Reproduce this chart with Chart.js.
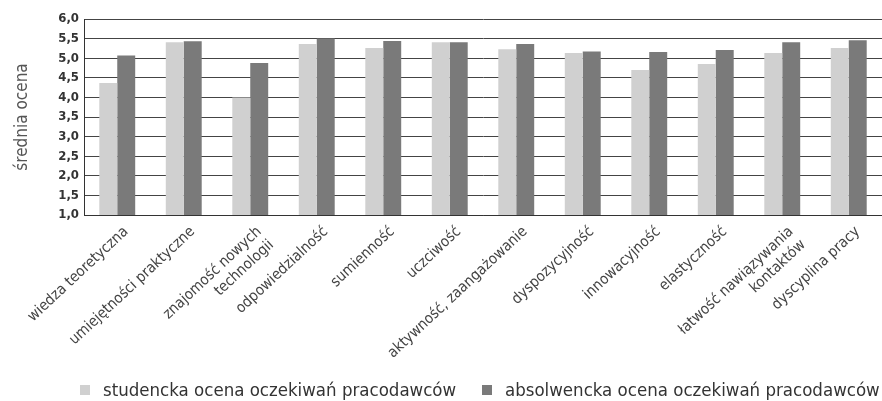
<!DOCTYPE html>
<html>
<head>
<meta charset="utf-8">
<script src="https://cdn.jsdelivr.net/npm/chart.js@4/dist/chart.umd.min.js"></script>
<style>
  html, body { margin: 0; padding: 0; background: #fff; }
  #wrap { width: 882px; height: 401px; position: relative; }
  #legend { position: absolute; left: 0; top: 380px; width: 882px; height: 22px;
            font-family: "DejaVu Sans Condensed", sans-serif; font-size: 18.5px; color: #333; }
  #legend .item { position: absolute; top: 0; white-space: nowrap; line-height: 20px; }
  #legend .box { position: absolute; top: 5px; width: 10px; height: 10px; }
  #legend .txt { position: absolute; top: 0; }
</style>
</head>
<body>
<div id="wrap">
  <canvas id="c" width="882" height="401"></canvas>
  <div id="legend"></div>
</div>
<script>
const categories = [
  'wiedza teoretyczna',
  'umiejętności praktyczne',
  ['znajomość nowych', 'technologii'],
  'odpowiedzialność',
  'sumienność',
  'uczciwość',
  'aktywność, zaangażowanie',
  'dyspozycyjność',
  'innowacyjność',
  'elastyczność',
  ['łatwość nawiązywania', 'kontaktów'],
  'dyscyplina pracy'
];
const seriesNames = [
  'studencka ocena oczekiwań pracodawców',
  'absolwencka ocena oczekiwań pracodawców'
];
const studentValues  = [4.37, 5.41, 4.00, 5.36, 5.26, 5.41, 5.23, 5.13, 4.70, 4.85, 5.13, 5.26];
const graduateValues = [5.07, 5.43, 4.88, 5.50, 5.44, 5.41, 5.36, 5.17, 5.16, 5.21, 5.41, 5.46];
const yTicks = ['1,0', '1,5', '2,0', '2,5', '3,0', '3,5', '4,0', '4,5', '5,0', '5,5', '6,0'];
const yTitle = 'średnia ocena';

const seriesColors = ['#d0d0d0', '#7a7a7a'];
const FONT = '"DejaVu Sans Condensed", sans-serif';

new Chart(document.getElementById('c'), {
  type: 'bar',
  data: {
    labels: categories,
    datasets: [
      { label: seriesNames[0], data: studentValues, backgroundColor: seriesColors[0] },
      { label: seriesNames[1], data: graduateValues, backgroundColor: seriesColors[1] }
    ]
  },
  options: {
    responsive: false,
    animation: false,
    events: [],
    layout: { padding: { left: 8, right: 0, top: 19, bottom: 0 } },
    datasets: { bar: { categoryPercentage: 0.54, barPercentage: 1.0 } },
    plugins: {
      tooltip: { enabled: false },
      legend: { display: false }
    },
    scales: {
      x: {
        grid: { display: false, drawTicks: false },
        border: { display: true, color: '#333', width: 1 },
        ticks: {
          color: '#444', padding: 8, labelOffset: 9,
          maxRotation: 43, minRotation: 43, autoSkip: false,
          font: { family: FONT, size: 15 }
        },
        afterFit(scale) { scale.height = 186; }
      },
      y: {
        min: 1, max: 6,
        grid: { color: '#444', lineWidth: 1, drawTicks: false },
        border: { display: true, color: '#333', width: 1 },
        ticks: {
          stepSize: 0.5, padding: 5, color: '#333', autoSkip: false,
          font: { family: FONT, size: 13, weight: 'bold' },
          callback: (v) => yTicks[Math.round((v - 1) * 2)]
        },
        title: {
          display: true, text: yTitle, color: '#555', padding: { bottom: 6 },
          font: { family: FONT, size: 17 }
        },
        afterFit(scale) { scale.width = 76; }
      }
    }
  }
});

// Legend below the plot
const legendEl = document.getElementById('legend');
const legendX = [80, 482];
seriesNames.forEach((name, i) => {
  const item = document.createElement('div');
  item.className = 'item';
  item.style.left = legendX[i] + 'px';
  const box = document.createElement('span');
  box.className = 'box';
  box.style.left = '0px';
  box.style.background = seriesColors[i];
  const txt = document.createElement('span');
  txt.className = 'txt';
  txt.style.left = '23px';
  txt.textContent = name;
  item.appendChild(box);
  item.appendChild(txt);
  legendEl.appendChild(item);
});
</script>
</body>
</html>
